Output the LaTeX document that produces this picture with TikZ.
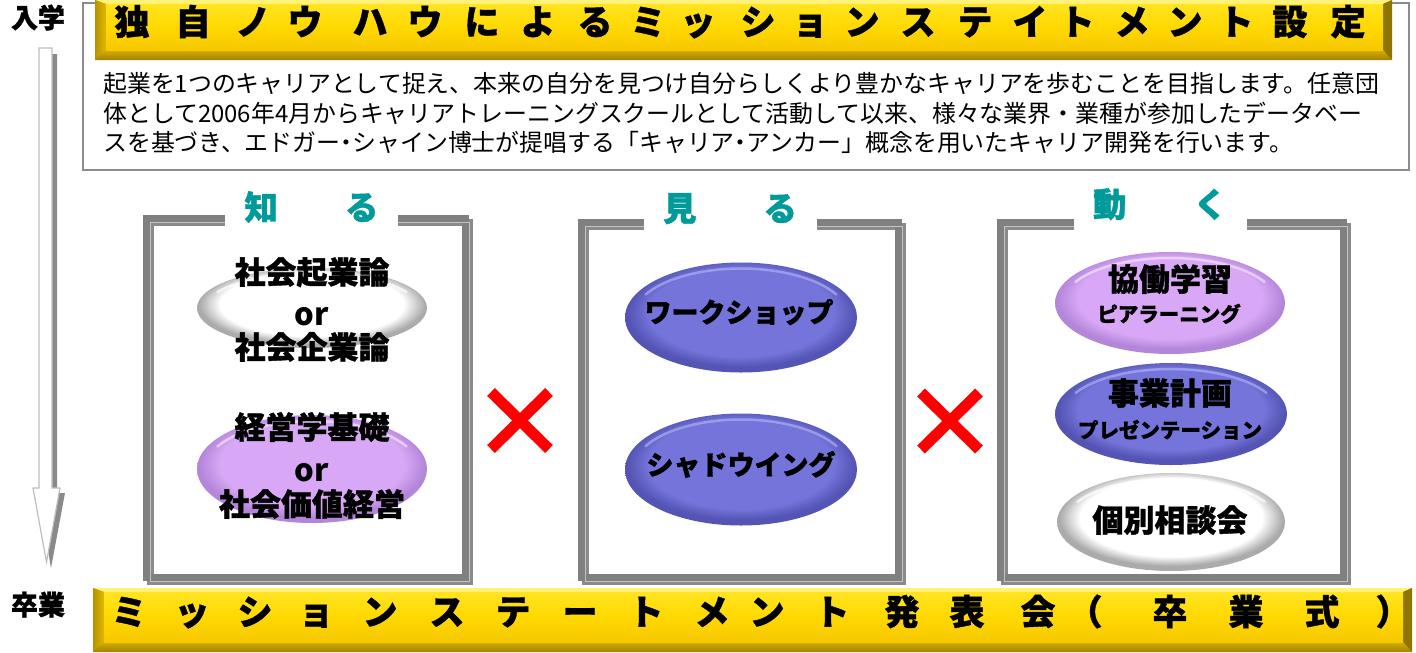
\documentclass[tikz,border=0pt]{standalone}
\usepackage{fontspec}
\setmainfont{Noto Sans CJK JP}
\newfontfamily\heavyjp{Noto Sans CJK JP}[FakeBold=1.2]
\newfontfamily\halfjp{Noto Sans CJK JP}[RawFeature=+halt]
\usetikzlibrary{shapes.geometric}
\definecolor{frameC}{HTML}{808080}
\definecolor{frameS}{HTML}{8A8A8A}
\definecolor{frameL}{HTML}{C4C4C4}
\definecolor{tealC}{HTML}{009A9A}
\definecolor{yFace}{HTML}{FFD800}
\definecolor{yFaceT}{HTML}{FFE420}
\definecolor{yFaceB}{HTML}{F6C800}
\definecolor{yTop}{HTML}{FFF27A}
\definecolor{yLeft}{HTML}{E2B800}
\definecolor{yRight}{HTML}{8E7400}
\definecolor{yBotT}{HTML}{D8AE00}
\definecolor{yBotB}{HTML}{A08200}
\definecolor{yDark}{HTML}{B89400}
\definecolor{pB}{HTML}{D8A8F6}
\definecolor{pR}{HTML}{B486DA}
\definecolor{pL}{HTML}{F4E2FF}
\definecolor{bB}{HTML}{7474DA}
\definecolor{bR}{HTML}{5454B4}
\definecolor{bL}{HTML}{ADADF4}
\definecolor{wB}{HTML}{FFFFFF}
\definecolor{wR}{HTML}{ABABAB}
\definecolor{wL}{HTML}{FFFFFF}
\definecolor{boxLine}{HTML}{8C8C8C}
\definecolor{arrLine}{HTML}{BDBDBD}
\definecolor{arrShadow}{HTML}{8A8A8A}
\pgfdeclareradialshading{gelP}{\pgfpoint{0bp}{4bp}}{color(0bp)=(pB); color(20bp)=(pB); color(24.5bp)=(pR); color(25bp)=(pR); color(50bp)=(pR)}
\pgfdeclareradialshading{gelB}{\pgfpoint{0bp}{4bp}}{color(0bp)=(bB); color(20bp)=(bB); color(24.5bp)=(bR); color(25bp)=(bR); color(50bp)=(bR)}
\pgfdeclareradialshading{gelW}{\pgfpoint{0bp}{4bp}}{color(0bp)=(wB); color(20bp)=(wB); color(24.5bp)=(wR); color(25bp)=(wR); color(50bp)=(wR)}
\tikzset{
  cjk/.style={inner sep=0pt, text height=.83em, text depth=.07em},
  bantext/.style={cjk, font=\fontsize{35}{35}\selectfont\heavyjp\bfseries},
  sidetext/.style={cjk, font=\fontsize{27}{27}\selectfont\heavyjp\bfseries},
  desctext/.style={cjk, anchor=west, font=\fontsize{23.9}{23.9}\selectfont},
  titletext/.style={cjk, fill=white, text=tealC, minimum width=173pt, minimum height=36pt,
    font=\fontsize{33.5}{33.5}\selectfont\heavyjp\bfseries},
  eltext/.style={cjk, font=\fontsize{31}{31}\selectfont\heavyjp\bfseries},
  eltextm/.style={cjk, font=\fontsize{27}{27}\selectfont\heavyjp\bfseries},
  elsmall/.style={cjk, font=\fontsize{20.5}{20.5}\selectfont\heavyjp\bfseries},
  ortext/.style={inner sep=0pt, anchor=base, font=\fontsize{31}{31}\selectfont\bfseries},
  gelshape/.style={ellipse, inner sep=0pt, draw=none, shade},
  hl/.style={line width=2.5pt, line cap=round, opacity=.7},
  frameMain/.style={draw=frameC, line width=7pt},
  frameShadow/.style={draw=frameS, line width=7pt},
  frameLight/.style={draw=frameL, line width=.8pt},
  crossline/.style={draw=red, line width=11pt},
}
\newcommand\myYBanner[4]{%
  \fill[yDark] (#1,#2) rectangle (#3,#4);
  \fill[yTop] (#1,#2) -- (#3,#2) -- (#3-9,#2+4) -- (#1+11,#2+4) -- cycle;
  \shade[left color=yLeft!80!black, right color=yLeft] (#1,#2) -- (#1+11,#2+4) -- (#1+11,#4-10) -- (#1,#4) -- cycle;
  \fill[yRight] (#3,#2) -- (#3-9,#2+4) -- (#3-9,#4-10) -- (#3,#4) -- cycle;
  \shade[top color=yBotT, bottom color=yBotB] (#1,#4) -- (#1+11,#4-10) -- (#3-9,#4-10) -- (#3,#4) -- cycle;
  \shade[top color=yFaceT, bottom color=yFaceB, middle color=yFace] (#1+11,#2+4) rectangle (#3-9,#4-10);
}
\newcommand\myGel[7]{%
  \node[gelshape, shading=#6, minimum width={2*#4}, minimum height={2*#5}] (#1) at (#2,#3) {};
  \draw[hl, #7] (#2,#3) ++(208:{#4-8} and {#5-6}) arc[start angle=208, end angle=332, x radius={#4-8}, y radius={#5-6}];
}
\newcommand\myFrame[4]{%
  \draw[frameShadow] (#1+4,#2+4) rectangle (#3+4,#4+4);
  \draw[frameMain] (#1,#2) rectangle (#3,#4);
  \draw[frameLight] (#1+4,#2+4) rectangle (#3+4,#4+4);
}
\newcommand\hdot{{\halfjp ・}}
\begin{document}
\begin{tikzpicture}[x=1pt,y=-1pt]
\useasboundingbox (0,0) rectangle (1416,653);
\fill[white] (0,0) rectangle (1416,653);

% top description box
\draw[boxLine, line width=2pt] (83,3) rectangle (1409,170);
\myYBanner{95}{0}{1392}{60}
\foreach \c/\x [count=\i] in {独/132,自/193,ノ/253,ウ/305,ハ/370,ウ/425,に/482,よ/538,る/595,ミ/648,ッ/698,シ/758,ョ/810,ン/862,ス/918,テ/975,イ/1030,ト/1077,メ/1132,ン/1185,ト/1236,設/1290,定/1348}
  \node[bantext] (top\i) at (\x,31) {\c};

\node[desctext] (d1) at (103,89) {起業を1つのキャリアとして捉え、本来の自分を見つけ自分らしくより豊かなキャリアを歩むことを目指します。任意団};
\node[desctext] (d2) at (103,119) {体として2006年4月からキャリアトレーニングスクールとして活動して以来、様々な業界・業種が参加したデータベー};
\node[desctext] (d3) at (103,148) {スを基づき、エドガー\hdot シャイン博士が提唱する「キャリア\hdot アンカー」概念を用いたキャリア開発を行います。};

% side labels and arrow
\node[sidetext] (nyu) at (38,24) {入学};
\node[sidetext] (sotsu) at (38,611) {卒業};
\fill[arrShadow] (44,54) -- (57,54) -- (57,493) -- (65,493) -- (51,568) -- (38,493) -- (44,493) -- cycle;
\filldraw[fill=white, draw=arrLine, line width=1.2pt] (39,48) -- (52,48) -- (52,488) -- (60,488) -- (46.5,562) -- (33,488) -- (39,488) -- cycle;

% three frames
\myFrame{146.5}{218.5}{465.5}{577}
\myFrame{581.5}{222.5}{898.5}{577}
\myFrame{1000.5}{222.5}{1343.5}{577}
\node[titletext] (t1) at (311.5,216) {知　　る};
\node[titletext] (t2) at (730,217) {見　　る};
\node[titletext] (t3) at (1160,213) {動　　く};

% ellipses box 1
\myGel{e1}{312}{308}{115}{40}{gelW}{wL}
\myGel{e2}{312}{469}{115}{54}{gelP}{pL}
\node[eltext] (e1a) at (312,280) {社会起業論};
\node[ortext] (e1b) at (312,325.5) {or};
\node[eltext] (e1c) at (312,355) {社会企業論};
\node[eltext] (e2a) at (312,435) {経営学基礎};
\node[ortext] (e2b) at (312,481.5) {or};
\node[eltext] (e2c) at (312,512) {社会価値経営};

% ellipses box 2
\myGel{e3}{741}{317.5}{116}{55}{gelB}{bL}
\myGel{e4}{741}{469.5}{116}{56}{gelB}{bL}
\node[eltextm] (e3a) at (739,318.5) {ワークショップ};
\node[eltextm] (e4a) at (741,471) {シャドウイング};

% ellipses box 3
\myGel{e5}{1170}{303}{115}{51}{gelP}{pL}
\myGel{e6}{1171}{414}{116}{51}{gelB}{bL}
\myGel{e7}{1171}{522}{114}{49}{gelW}{wL}
\node[eltext] (e5a) at (1170,287) {協働学習};
\node[elsmall] (e5b) at (1169,318) {ピアラーニング};
\node[eltext] (e6a) at (1170,401) {事業計画};
\node[elsmall] (e6b) at (1170,434) {プレゼンテーション};
\node[eltext] (e7a) at (1170,528) {個別相談会};

% crosses
\coordinate (x1) at (520,420.5);
\coordinate (x2) at (950,421);
\foreach \p in {x1,x2}{
  \draw[crossline] (\p) ++(-29,-28.5) -- ++(58,57);
  \draw[crossline] (\p) ++(-29,28.5) -- ++(58,-57);
}

% bottom banner
\myYBanner{93}{588}{1412}{652}
\foreach \c/\x [count=\i] in {ミ/129,ッ/192,シ/255,ョ/316,ン/380,ス/447,テ/513,ー/580,ト/646,メ/712,ン/767,ト/832,発/902,表/967,会/1038,（/1085,卒/1170,業/1246,式/1322,）/1393}
  \node[bantext] (bot\i) at (\x,621) {\c};
\end{tikzpicture}
\end{document}
